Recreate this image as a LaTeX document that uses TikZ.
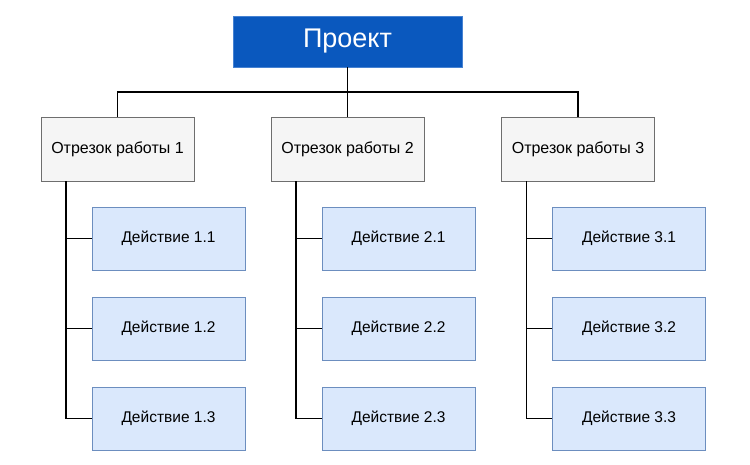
\documentclass[tikz,border=0pt]{standalone}
\usepackage{fontspec}
\setmainfont{Liberation Sans}
\usetikzlibrary{positioning}
\definecolor{projblue}{RGB}{10,88,190}
\definecolor{projedge}{RGB}{70,130,210}
\definecolor{seggray}{RGB}{245,245,245}
\definecolor{segedge}{RGB}{110,110,110}
\definecolor{actblue}{RGB}{218,232,252}
\definecolor{actedge}{RGB}{108,142,191}

\begin{document}
\begin{tikzpicture}[x=1pt, y=-1pt,
    projbox/.style={draw=projedge, fill=projblue, text=white, font=\fontsize{27}{31}\selectfont,
        minimum width=229pt, minimum height=51pt, inner sep=0pt},
    segbox/.style={draw=segedge, fill=seggray, font=\fontsize{16}{19}\selectfont,
        minimum width=153pt, minimum height=64pt, inner sep=0pt},
    actbox/.style={draw=actedge, fill=actblue, font=\fontsize{15.5}{18}\selectfont,
        minimum width=153pt, minimum height=63pt, inner sep=0pt},
    link/.style={draw=black, line width=1.5pt}]
\useasboundingbox (0,0) rectangle (750,465);

\node[projbox] (proj) at (347.5,41.5) {Проект};

\node[segbox] (seg1) at (117.5,149) {Отрезок работы 1};
\node[segbox] (seg2) at (347.5,149) {Отрезок работы 2};
\node[segbox] (seg3) at (578,149) {Отрезок работы 3};

\foreach \s/\x in {1/168.5, 2/398.5, 3/629} {
    \node[actbox] (act\s1) at (\x,238.5) {Действие \s.1};
    \node[actbox] (act\s2) at (\x,328.5) {Действие \s.2};
    \node[actbox] (act\s3) at (\x,418.5) {Действие \s.3};
}

% tree links
\draw[link] (proj) -- (seg2);
\draw[link] (seg1.north) -- ++(0,-25) -| (seg3.north);

\foreach \s in {1,2,3} {
    \coordinate (trunk\s) at ([xshift=25pt]seg\s.south west);
    \draw[link] (trunk\s) |- (act\s3.west);
    \draw[link] (act\s1.west) -- (act\s1.west -| trunk\s);
    \draw[link] (act\s2.west) -- (act\s2.west -| trunk\s);
}
\end{tikzpicture}
\end{document}
